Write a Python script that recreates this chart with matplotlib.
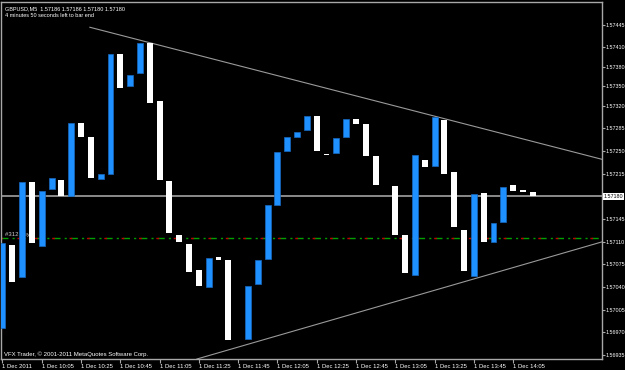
import matplotlib
matplotlib.use("Agg")
import matplotlib.pyplot as plt

plt.rcParams['font.family'] = ['Liberation Sans', 'DejaVu Sans']

# GBPUSD M5, 1 Dec 2011 09:45 .. 14:15 (candle bodies only)
opens = [1.56977, 1.57105, 1.57056, 1.57202, 1.57104, 1.57192, 1.57206, 1.57180, 1.57294, 1.57271,
         1.57207, 1.57214, 1.57400, 1.57351, 1.57370, 1.57417, 1.57327, 1.57203, 1.57121, 1.57106,
         1.57066, 1.57040, 1.57086, 1.57082, 1.56959, 1.56960, 1.57045, 1.57083, 1.57167, 1.57250,
         1.57272, 1.57283, 1.57304, 1.57245, 1.57247, 1.57271, 1.57299, 1.57291, 1.57243, 1.57197,
         1.57196, 1.57120, 1.57058, 1.57236, 1.57227, 1.57298, 1.57217, 1.57128, 1.57057, 1.57185,
         1.57109, 1.57140, 1.57197, 1.57190, 1.57186]
closes = [1.57108, 1.57048, 1.57202, 1.57108, 1.57188, 1.57208, 1.57180, 1.57294, 1.57272, 1.57209,
          1.57214, 1.57400, 1.57347, 1.57368, 1.57417, 1.57324, 1.57206, 1.57124, 1.57110, 1.57064,
          1.57042, 1.57085, 1.57082, 1.56959, 1.56959, 1.57042, 1.57082, 1.57166, 1.57249, 1.57272,
          1.57280, 1.57304, 1.57250, 1.57244, 1.57270, 1.57299, 1.57291, 1.57242, 1.57198, 1.57197,
          1.57121, 1.57062, 1.57244, 1.57225, 1.57302, 1.57215, 1.57132, 1.57065, 1.57183, 1.57109,
          1.57139, 1.57195, 1.57189, 1.57187, 1.57180]

tick_bars = [0, 4, 8, 12, 16, 20, 24, 28, 32, 36, 40, 44, 48, 52]
tick_labels = ["1 Dec 2011", "1 Dec 10:05", "1 Dec 10:25", "1 Dec 10:45", "1 Dec 11:05",
               "1 Dec 11:25", "1 Dec 11:45", "1 Dec 12:05", "1 Dec 12:25", "1 Dec 12:45",
               "1 Dec 13:05", "1 Dec 13:25", "1 Dec 13:45", "1 Dec 14:05"]
price_ticks = [1.57445, 1.57410, 1.57380, 1.57350, 1.57320, 1.57285, 1.57250, 1.57215,
               1.57145, 1.57110, 1.57075, 1.57040, 1.57005, 1.56970, 1.56935]

bid = 1.57180
order_price = 1.57116
upper_trend = ([8.9, 61.1], [1.57441, 1.57237])
lower_trend = ([19.8, 61.1], [1.56929, 1.57110])

fig = plt.figure(figsize=(6.25, 3.7), dpi=100, facecolor="black")
ax = fig.add_axes([0.0024, 0.0297, 0.9608, 0.9649], facecolor="black")

idx = list(range(len(opens)))
up = [i for i in idx if closes[i] > opens[i]]
down = [i for i in idx if closes[i] <= opens[i]]

ax.text(0.25, order_price + 0.00003, "#312 buy", color="#c8c8c8", fontsize=4.3, zorder=1)

ax.bar(up, [closes[i] - opens[i] for i in up], bottom=[opens[i] for i in up],
       width=0.6, color="#1e90ff", edgecolor="#1769c0", linewidth=0.5, zorder=3)
ax.bar(down, [opens[i] - closes[i] for i in down], bottom=[closes[i] for i in down],
       width=0.6, color="white", linewidth=0, zorder=3)

ax.axhline(bid, color="#8a8a8a", lw=1.4, zorder=2)
ax.axhline(order_price, color="#00a000", lw=1, linestyle=(0, (5, 3, 1.5, 3)), zorder=2)
ax.axhline(order_price, color="#c00000", lw=1, linestyle=(1, (2, 10.5)), zorder=2)

ax.plot(*upper_trend, color="#9a9a9a", lw=0.8, zorder=2)
ax.plot(*lower_trend, color="#9a9a9a", lw=0.8, zorder=2)

ax.set_xlim(-0.1, 61.05)
ax.set_ylim(1.56929, 1.57480)

for s in ax.spines.values():
    s.set_color("#a8a8a8")
    s.set_linewidth(1)

ax.yaxis.tick_right()
ax.set_yticks(price_ticks)
ax.set_yticklabels(["%.5f" % p for p in price_ticks])
ax.tick_params(axis="y", colors="#a8a8a8", labelcolor="white", labelsize=3.9, length=2, pad=0.6)
ax.set_xticks(tick_bars)
ax.set_xticklabels(tick_labels, ha="left")
ax.tick_params(axis="x", colors="#a8a8a8", labelcolor="white", labelsize=4.2, length=3, pad=0.8)

ax.text(1.003, bid, "%.5f" % bid, transform=ax.get_yaxis_transform(), fontsize=3.9,
        color="black", va="center", ha="left",
        bbox=dict(facecolor="white", edgecolor="none", pad=0.6))

fig.text(0.008, 0.977, "GBPUSD,M5  1.57186 1.57186 1.57180 1.57180", color="white", fontsize=4, va="center")
fig.text(0.008, 0.958, "4 minutes 50 seconds left to bar end", color="white", fontsize=4, va="center")
fig.text(0.006, 0.044, "VFX Trader, \u00a9 2001-2011 MetaQuotes Software Corp.", color="white",
         fontsize=4.3, va="center")

fig.savefig("out.png", dpi=100, facecolor="black")
